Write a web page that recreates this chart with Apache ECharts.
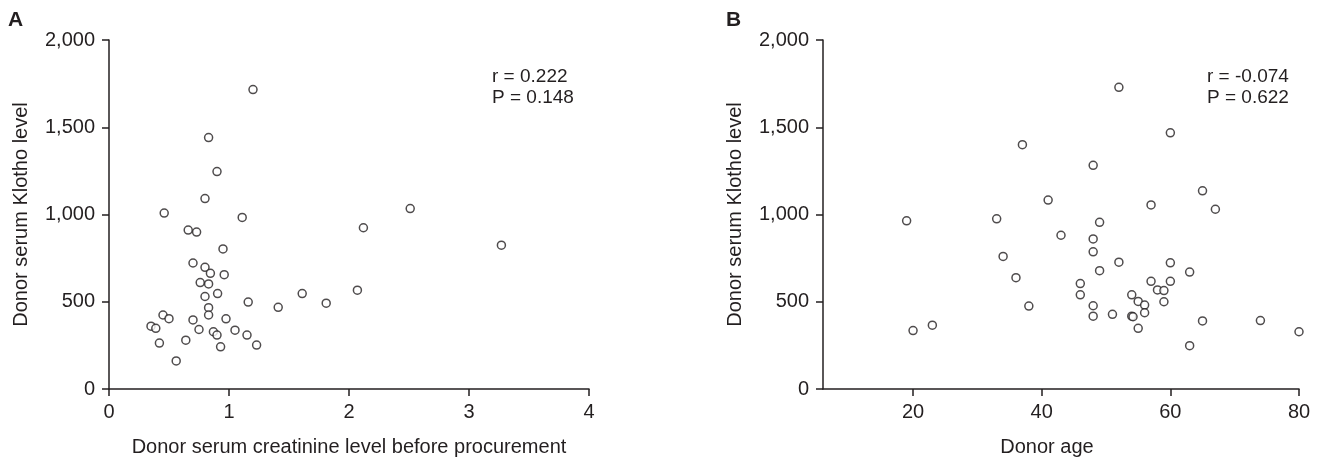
<!DOCTYPE html>
<html>
<head>
<meta charset="utf-8">
<script src="https://cdn.jsdelivr.net/npm/echarts@6/dist/echarts.min.js"></script>
<style>
html,body{margin:0;padding:0;background:#fff;}
#chart{width:1324px;height:462px;}
</style>
</head>
<body>
<div id="chart"></div>
<script>
// Panel A: donor serum creatinine vs Klotho
const creatinineA = [1.20,0.83,0.90,0.80,0.46,1.11,0.66,0.73,0.95,0.70,0.80,0.845,0.96,0.76,0.83,0.905,0.80,1.16,1.41,0.83,0.45,0.83,0.50,0.70,0.975,0.35,0.39,0.75,1.05,0.87,0.90,1.15,0.42,0.64,0.93,1.23,0.56,2.51,2.12,3.27,1.61,1.81,2.07];
const klothoA     = [1716,1441,1246,1091,1008,983,911,899,803,722,697,663,655,610,602,547,530,498,468,466,424,424,403,396,402,360,348,341,337,328,309,309,263,280,242,252,161,1034,924,824,547,492,566];
// Panel B: donor age vs Klotho
const ageB     = [52,37,19,33,34,36,38,20,23,60,48,65,41,57,67,49,43,48,48,52,60,49,63,57,60,58,59,46,46,54,55,56,59,56,48,48,51,54,54.2,55,65,74,80,63];
const klothoB  = [1729,1400,964,975,760,638,475,335,366,1468,1282,1136,1083,1055,1030,955,881,860,786,727,723,678,670,617,617,568,564,604,540,540,502,481,500,437,477,417,428,417,414,348,390,392,328,248];
const yTicks = [0,500,1000,1500,2000];
const xTicksB = [20,40,60,80];
const statsA = ['r = 0.222','P = 0.148'];
const statsB = ['r = -0.074','P = 0.622'];
const xNameA = 'Donor serum creatinine level before procurement';
const xNameB = 'Donor age';
const yName = 'Donor serum Klotho level';

const FONT = '"Liberation Sans", Arial, sans-serif';
const TXT = '#231f20';
const axisLine = {show:true, onZero:false, lineStyle:{color:'#231f20', width:1.5}};
const axisTick = {show:true, inside:false, length:7, lineStyle:{color:'#231f20', width:1.5}};

function yAxis(idx){
  return {
    gridIndex: idx, type:'value', min:0, max:2000, interval:500,
    name: yName, nameLocation:'middle', nameGap:78, nameRotate:90,
    nameTextStyle:{fontFamily:FONT, fontSize:20, color:TXT},
    axisLine: axisLine, axisTick: axisTick,
    splitLine:{show:false},
    axisLabel:{fontFamily:FONT, fontSize:20, color:TXT, margin:14,
      formatter: v => v.toLocaleString('en-US')}
  };
}
const scatterStyle = {color:'#ffffff', borderColor:'#231f20', borderWidth:1.5};

const option = {
  animation:false,
  backgroundColor:'#fff',
  grid:[
    {left:109, top:40, width:480, height:352},
    {left:823, top:40, width:476, height:352}
  ],
  xAxis:[
    {gridIndex:0, type:'value', min:0, max:4, interval:1,
     name:xNameA, nameLocation:'middle', nameGap:48,
     nameTextStyle:{fontFamily:FONT, fontSize:20, color:TXT},
     axisLine:axisLine, axisTick:axisTick, splitLine:{show:false},
     axisLabel:{fontFamily:FONT, fontSize:20, color:TXT, margin:13}},
    {gridIndex:1, type:'value', min:6, max:80,
     name:xNameB, nameLocation:'middle', nameGap:48,
     nameTextStyle:{fontFamily:FONT, fontSize:20, color:TXT, padding:[0,28,0,0]},
     axisLine:axisLine,
     axisTick:Object.assign({}, axisTick, {customValues:xTicksB}),
     splitLine:{show:false},
     axisLabel:{fontFamily:FONT, fontSize:20, color:TXT, margin:13, customValues:xTicksB}}
  ],
  yAxis:[yAxis(0), yAxis(1)],
  series:[
    {type:'scatter', xAxisIndex:0, yAxisIndex:0, symbol:'circle', symbolSize:8,
     itemStyle:scatterStyle, data: creatinineA.map((x,i)=>[x, klothoA[i]])},
    {type:'scatter', xAxisIndex:1, yAxisIndex:1, symbol:'circle', symbolSize:8,
     itemStyle:scatterStyle, data: ageB.map((x,i)=>[x, klothoB[i]])}
  ],
  graphic:[
    {type:'text', left:8, top:10, style:{text:'A', fontFamily:FONT, fontSize:21, fontWeight:'bold', fill:TXT}},
    {type:'text', left:726, top:10, style:{text:'B', fontFamily:FONT, fontSize:21, fontWeight:'bold', fill:TXT}},
    {type:'text', left:492, top:66, style:{text:statsA.join('\n'), fontFamily:FONT, fontSize:19, lineHeight:21, fill:TXT}},
    {type:'text', left:1207, top:66, style:{text:statsB.join('\n'), fontFamily:FONT, fontSize:19, lineHeight:21, fill:TXT}}
  ]
};
const chart = echarts.init(document.getElementById('chart'), null, {renderer:'canvas'});
chart.setOption(option);
</script>
</body>
</html>
